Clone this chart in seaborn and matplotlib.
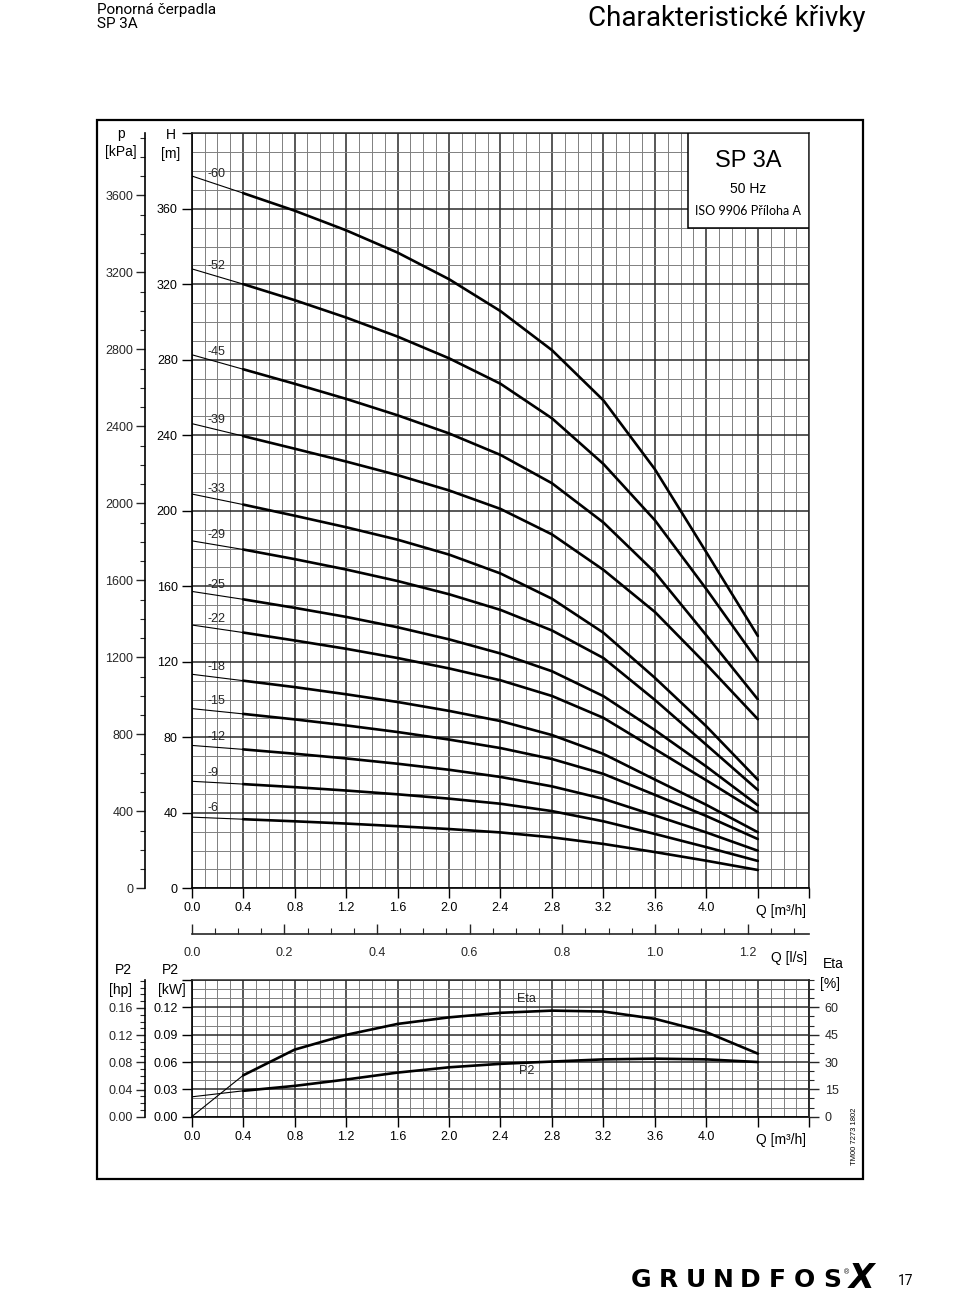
import pandas as pd
import matplotlib.pyplot as plt
import seaborn as sns
from matplotlib.ticker import MultipleLocator, FixedLocator
from matplotlib.patches import Rectangle

# flow points shared by all curves [m3/h]
Q = [0.0, 0.4, 0.8, 1.2, 1.6, 2.0, 2.4, 2.8, 3.2, 3.6, 4.0, 4.4]

# head curves H [m], one list per pump model (number of stages)
H_60 = [377.4, 368.3, 359.0, 348.6, 336.8, 322.7, 305.8, 285.1, 258.5, 222.0, 178.0, 133.7]
H_52 = [328.2, 320.1, 311.6, 302.4, 292.3, 280.8, 267.3, 249.0, 224.8, 195.0, 158.5, 120.3]
H_45 = [282.7, 275.0, 267.3, 259.3, 250.6, 241.0, 229.6, 214.6, 193.8, 167.4, 134.0, 100.1]
H_39 = [246.2, 239.6, 232.9, 226.1, 218.9, 210.8, 201.0, 187.5, 168.7, 146.4, 118.6, 89.6]
H_33 = [208.9, 203.3, 197.4, 191.3, 184.7, 176.8, 166.8, 153.4, 135.4, 111.5, 85.8, 57.5]
H_29 = [184.1, 179.5, 174.4, 168.9, 162.8, 155.8, 147.5, 136.6, 122.0, 99.8, 76.0, 52.1]
H_25 = [157.3, 153.1, 148.6, 143.8, 138.3, 131.9, 124.4, 115.0, 101.8, 83.8, 64.5, 44.0]
H_22 = [139.5, 135.5, 131.3, 126.9, 122.0, 116.5, 110.2, 101.9, 90.3, 73.8, 57.2, 40.3]
H_18 = [113.4, 110.0, 106.6, 102.8, 98.7, 94.0, 88.6, 81.2, 71.2, 57.6, 44.2, 29.7]
H_15 = [95.2, 92.4, 89.5, 86.3, 82.8, 78.8, 74.3, 68.5, 60.6, 49.5, 38.3, 26.1]
H_12 = [75.7, 73.6, 71.3, 68.8, 66.0, 62.8, 59.0, 54.0, 47.4, 38.6, 29.6, 19.9]
H_9 = [56.7, 55.2, 53.6, 51.8, 49.8, 47.5, 44.8, 40.9, 35.5, 28.8, 21.8, 14.5]
H_6 = [37.7, 36.6, 35.5, 34.3, 32.9, 31.4, 29.6, 27.0, 23.5, 19.2, 14.6, 9.7]

CURVE_LABELS = ["-60", "-52", "-45", "-39", "-33", "-29", "-25", "-22", "-18", "-15", "-12", "-9", "-6"]
CURVES = [H_60, H_52, H_45, H_39, H_33, H_29, H_25, H_22, H_18, H_15, H_12, H_9, H_6]

# lower panel: efficiency [%] and shaft power per stage [kW]
ETA = [0.0, 22.7, 36.8, 44.9, 50.9, 54.5, 57.0, 58.2, 57.7, 53.7, 46.4, 34.6]
P2_KW = [0.0218, 0.0284, 0.0338, 0.0408, 0.0484, 0.0542, 0.0580, 0.0605, 0.0629, 0.0637, 0.0629, 0.0600]

sns.set_theme(style="ticks")
plt.rcParams['font.family'] = ['Liberation Sans', 'DejaVu Sans']
plt.rcParams['axes.linewidth'] = 1.2

W, H = 960, 1292
fig = plt.figure(figsize=(W / 100, H / 100), dpi=100)


def px_rect(x0, y0, x1, y1):
    return [x0 / W, 1 - y1 / H, (x1 - x0) / W, (y1 - y0) / H]


def ftext(x, y, s, **kw):
    kw.setdefault('ha', 'center')
    kw.setdefault('va', 'center')
    kw.setdefault('fontsize', 9)
    kw.setdefault('color', 'black')
    return fig.text(x / W, 1 - y / H, s, **kw)


def style_grid(a, xmin, ymin):
    a.xaxis.set_minor_locator(MultipleLocator(xmin))
    a.yaxis.set_minor_locator(MultipleLocator(ymin))
    a.grid(which='minor', color='#808080', lw=0.7)
    a.grid(which='major', color='#2a2a2a', lw=1.1)
    a.set_axisbelow(True)
    for s in ['top', 'right']:
        a.spines[s].set_color('#2a2a2a')
        a.spines[s].set_linewidth(1.1)
    for s in ['left', 'bottom']:
        a.spines[s].set_color('black')
    a.tick_params(which='minor', length=0)
    a.tick_params(which='major', direction='out', length=7, width=1.0,
                  labelsize=9, colors='black', pad=3)


def side_axis(a, major, minor, fmt=None):
    # extra y scale drawn as a detached spine left of the grid
    a.spines['left'].set_position(('axes', -0.0756))
    a.spines['left'].set_color('black')
    for s in ['right', 'top', 'bottom']:
        a.spines[s].set_visible(False)
    a.yaxis.set_ticks_position('left')
    a.yaxis.set_major_locator(FixedLocator(major))
    a.yaxis.set_minor_locator(MultipleLocator(minor))
    if fmt:
        a.yaxis.set_major_formatter(plt.FuncFormatter(lambda v, p: fmt.format(v)))
    a.tick_params(which='major', direction='out', length=6.5, width=1.0, labelsize=9, pad=2)
    a.tick_params(which='minor', direction='out', length=3.5, width=0.8)
    a.grid(False)


# ---------------- top panel: Q-H curves ----------------
ax = fig.add_axes(px_rect(191.7, 133.3, 809.3, 888.3))
ax.set_xlim(0, 4.8)
ax.set_ylim(0, 400)
ax.set_xticks([0.4 * i for i in range(13)])
ax.set_xticklabels([f"{0.4 * i:.1f}" for i in range(11)] + ['', ''])
ax.set_yticks(range(0, 401, 40))
ax.set_yticklabels([str(v) for v in range(0, 361, 40)] + [''])
style_grid(ax, 0.1, 10)

for lab, h in zip(CURVE_LABELS, CURVES):
    df = pd.DataFrame({'Q': Q, 'H': h})
    sns.lineplot(data=df.iloc[:2], x='Q', y='H', ax=ax, color='black', lw=0.8,
                 sort=False, estimator=None)
    sns.lineplot(data=df.iloc[1:], x='Q', y='H', ax=ax, color='black', lw=1.9,
                 sort=False, estimator=None)
    ax.text(0.125, (h[0] + h[1]) / 2 + 2.2, lab, fontsize=9, ha='left', va='bottom')
ax.set_xlabel('')
ax.set_ylabel('')

# pressure axis [kPa]
axp = ax.twinx()
axp.set_ylim(0, 400 * 9.806)
side_axis(axp, range(0, 3601, 400), 100)

# model box
ax.add_patch(Rectangle((0.8036, 0.8746), 0.1964, 0.1254, transform=ax.transAxes,
                       facecolor='white', edgecolor='black', lw=1.1, zorder=5))
ftext(748, 161, 'SP 3A', fontsize=17)
ftext(748, 189, '50 Hz', fontsize=10)
ftext(748, 211, 'ISO 9906 Příloha A', fontsize=9, family=['Lato', 'DejaVu Sans'])

ftext(121, 134, 'p', fontsize=10)
ftext(121, 152, '[kPa]', fontsize=10)
ftext(171, 135, 'H', fontsize=10)
ftext(171, 154, '[m]', fontsize=10)
ftext(781, 911, 'Q [m³/h]', fontsize=10)

# ---------------- lower panel: P2 / Eta ----------------
ax2 = fig.add_axes(px_rect(191.7, 980, 809.3, 1116.7))
ax2.set_xlim(0, 4.8)
ax2.set_ylim(0, 0.15)
ax2.set_xticks([0.4 * i for i in range(13)])
ax2.set_xticklabels([f"{0.4 * i:.1f}" for i in range(11)] + ['', ''])
ax2.set_yticks([0.03 * i for i in range(6)])
ax2.set_yticklabels([f"{0.03 * i:.2f}" for i in range(5)] + [''])
style_grid(ax2, 0.1, 0.01)

dfp = pd.DataFrame({'Q': Q, 'P2': P2_KW})
sns.lineplot(data=dfp.iloc[:2], x='Q', y='P2', ax=ax2, color='black', lw=0.8,
             sort=False, estimator=None)
sns.lineplot(data=dfp.iloc[1:], x='Q', y='P2', ax=ax2, color='black', lw=1.9,
             sort=False, estimator=None)
ax2.set_xlabel('')
ax2.set_ylabel('')

# efficiency axis (right)
axe = ax2.twinx()
axe.set_ylim(0, 75)
for s in ['left', 'top', 'bottom']:
    axe.spines[s].set_visible(False)
axe.spines['right'].set_color('#2a2a2a')
axe.yaxis.set_major_locator(FixedLocator(range(0, 61, 15)))
axe.yaxis.set_minor_locator(MultipleLocator(5))
axe.tick_params(which='major', direction='out', length=7, width=1.0, labelsize=9, pad=4)
axe.tick_params(which='minor', direction='out', length=3.5, width=0.8)
axe.grid(False)
dfe = pd.DataFrame({'Q': Q, 'Eta': ETA})
sns.lineplot(data=dfe.iloc[:2], x='Q', y='Eta', ax=axe, color='black', lw=0.8,
             sort=False, estimator=None)
sns.lineplot(data=dfe.iloc[1:], x='Q', y='Eta', ax=axe, color='black', lw=1.9,
             sort=False, estimator=None)
axe.set_ylabel('')

# hp axis (left, outer)
axh = ax2.twinx()
axh.set_ylim(0, 0.15 * 1.341)
side_axis(axh, [0.0, 0.04, 0.08, 0.12, 0.16], 0.01, '{:.2f}')

# Q in l/s scale above the lower panel
axq = fig.add_axes(px_rect(191.7, 915, 809.3, 934))
axq.set_xlim(0, 4.8 / 3.6)
axq.patch.set_visible(False)
for s in ['left', 'right', 'top']:
    axq.spines[s].set_visible(False)
axq.set_yticks([])
axq.set_xticks([0.2 * i for i in range(7)])
axq.set_xticklabels([f"{0.2 * i:.1f}" for i in range(7)])
axq.xaxis.set_minor_locator(MultipleLocator(0.05))
axq.tick_params(which='major', direction='in', length=7, width=1.0, labelsize=9, pad=9)
axq.tick_params(which='minor', direction='in', length=4, width=0.8)

ax2.text(2.6, 0.1295, 'Eta', fontsize=9, ha='center', va='center')
ax2.text(2.6, 0.0505, 'P2', fontsize=9, ha='center', va='center')

ftext(123, 970, 'P2', fontsize=10)
ftext(121, 990, '[hp]', fontsize=10)
ftext(170, 970, 'P2', fontsize=10)
ftext(172, 990, '[kW]', fontsize=10)
ftext(833, 964, 'Eta', fontsize=10)
ftext(830, 984, '[%]', fontsize=10)
ftext(789, 958, 'Q [l/s]', fontsize=10)
ftext(781, 1140, 'Q [m³/h]', fontsize=10)
ftext(854, 1136, 'TM00 7273 1802', fontsize=5.5, rotation=90)

# outer frame
fig.add_artist(Rectangle((97 / W, 1 - 1179 / H), (863 - 97) / W, (1179 - 120) / H,
                         transform=fig.transFigure, fill=False, lw=1.6, ec='black'))

# page header
hdr = ['Roboto', 'DejaVu Sans']
ftext(97, 10, 'Ponorná čerpadla', ha='left', fontsize=11, family=hdr)
ftext(97, 24, 'SP 3A', ha='left', fontsize=11, family=hdr)
ftext(865, 19, 'Charakteristické křivky', ha='right', fontsize=20, family=hdr)

# page footer
for i, ch in enumerate('GRUNDFOS'):
    ftext(641 + i * 27.3, 1280, ch, fontsize=18, weight='bold', family=['DejaVu Sans'])
ftext(847, 1273, '®', fontsize=5)
ftext(862, 1278, 'X', fontsize=24, weight='bold', style='italic', family=['DejaVu Sans'])
ftext(906, 1281, '17', fontsize=10, family=hdr)

fig.savefig('out.png', dpi=100, facecolor='white')
